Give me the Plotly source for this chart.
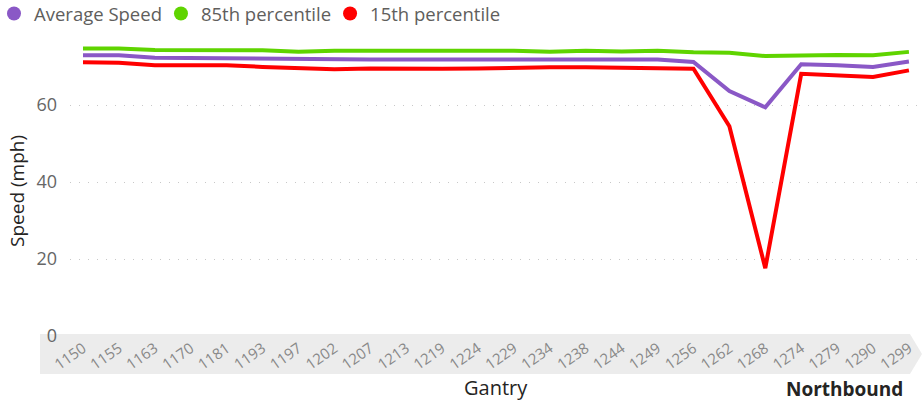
import plotly.graph_objects as go

# speeds per gantry, northbound
GANTRY = ["1150", "1155", "1163", "1170", "1181", "1193", "1197", "1202", "1207", "1213",
          "1219", "1224", "1229", "1234", "1238", "1244", "1249", "1256", "1262", "1268",
          "1274", "1279", "1290", "1299"]
AVG_SPEED = [72.9, 72.9, 72.3, 72.2, 72.2, 72.0, 71.8, 71.7, 71.8, 71.8,
             71.8, 71.8, 71.9, 71.9, 71.9, 71.8, 71.8, 71.2, 63.6, 59.4,
             70.6, 70.3, 69.9, 71.3]
P85 = [74.7, 74.7, 74.3, 74.3, 74.4, 74.2, 73.8, 74.1, 74.1, 74.1,
       74.0, 74.1, 74.1, 73.8, 74.1, 73.9, 74.1, 73.7, 73.6, 72.7,
       72.9, 73.0, 72.9, 73.8]
P15 = [71.1, 71.0, 70.3, 70.3, 70.3, 69.9, 69.7, 69.3, 69.5, 69.4,
       69.4, 69.5, 69.7, 69.8, 69.8, 69.7, 69.7, 69.4, 54.5, 17.6,
       68.1, 67.7, 67.3, 69.0]
Y_TICKS = [0, 20, 40, 60]

FONT = "Open Sans"
SERIES = (
    ("Average Speed", AVG_SPEED, "#8A58C6"),
    ("85th percentile", P85, "#5FD400"),
    ("15th percentile", P15, "#FF0000"),
)

fig = go.Figure()
for name, vals, color in SERIES:
    fig.add_trace(go.Scatter(
        x=GANTRY, y=vals, mode="lines", name=name, legendgroup=name,
        line=dict(color=color, width=4), showlegend=False,
    ))
# legend entries as round dots, like the original
for name, vals, color in SERIES:
    fig.add_trace(go.Scatter(
        x=[None], y=[None], mode="markers", name=name, legendgroup=name,
        marker=dict(color=color, size=14),
    ))

# grey arrow band behind the category labels
fig.add_shape(
    type="path", xref="paper", yref="paper", layer="below",
    path="M -0.0352 0.0065 L 0.9859 0.0065 L 1.0 -0.0584 L 0.9859 -0.1234 L -0.0352 -0.1234 Z",
    fillcolor="#ececec", line=dict(width=0),
)

fig.update_xaxes(
    type="category", range=[-0.362, 23.364], showgrid=False, zeroline=False,
    showline=False, ticks="", tickangle=-35,
    tickfont=dict(family=FONT, size=15, color="#888888"),
)
fig.update_yaxes(
    range=[0, 80], tickvals=Y_TICKS, showgrid=True, gridcolor="#c8c8c8",
    griddash="1px,8px", gridwidth=1, zeroline=False, showline=False, ticks="",
    ticklabelstandoff=12, tickfont=dict(family=FONT, size=18, color="#666666"),
)

fig.add_annotation(text="Speed (mph)", xref="paper", yref="paper", x=-0.0622, y=0.471,
                   textangle=-90, showarrow=False, xanchor="center", yanchor="middle",
                   font=dict(family=FONT, size=19, color="#252423"))
fig.add_annotation(text="Gantry", xref="paper", yref="paper", x=0.5, y=-0.1656,
                   showarrow=False, xanchor="center", yanchor="middle",
                   font=dict(family=FONT, size=20, color="#252423"))
fig.add_annotation(text="<b>Northbound</b>", xref="paper", yref="paper", x=0.9096, y=-0.172,
                   showarrow=False, xanchor="center", yanchor="middle",
                   font=dict(family=FONT, size=19, color="#252423"))

fig.update_layout(
    width=922, height=405,
    margin=dict(l=70, r=0, t=28, b=69, autoexpand=False),
    plot_bgcolor="white", paper_bgcolor="white",
    legend=dict(orientation="h", xref="container", yref="paper", x=0, y=1.107,
                xanchor="left", yanchor="top", itemwidth=30, indentation=-6,
                font=dict(family=FONT, size=18.5, color="#605E5C"),
                bgcolor="rgba(0,0,0,0)"),
)

# page default 8px body margin would shift the chart
fig.write_html("out.html", config={"displayModeBar": False},
               post_script="document.body.style.margin='0';document.body.style.overflow='hidden';")
